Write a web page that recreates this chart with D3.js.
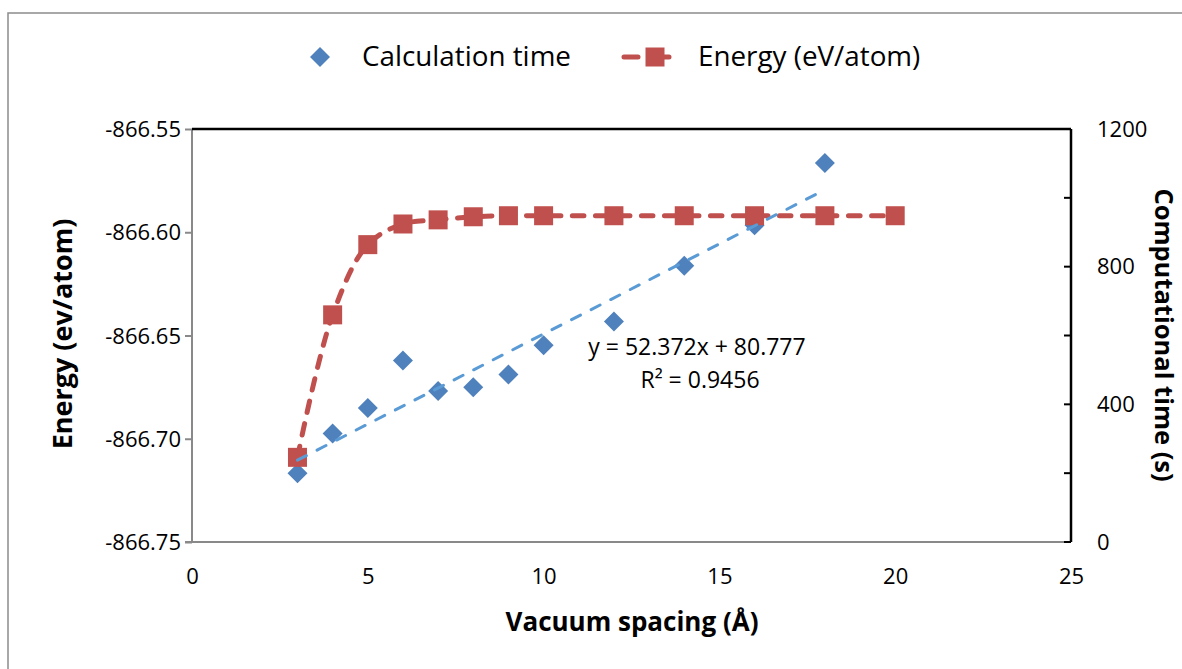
<!DOCTYPE html>
<html>
<head>
<meta charset="utf-8">
<script src="https://cdn.jsdelivr.net/npm/d3@7"></script>
<style>
  html, body { margin: 0; padding: 0; background: #fff; }
  svg { display: block; font-family: "Open Sans", "Liberation Sans", sans-serif; }
</style>
</head>
<body>
<svg id="chart" width="1182" height="669"></svg>
<script>
// Vacuum spacing (Å) for each run
const spacingTime = [3, 4, 5, 6, 7, 8, 9, 10, 12, 14, 16, 18];
const calcTime = [200, 315, 389, 527, 439, 450, 487, 572, 641, 803, 920, 1101];

const spacingEnergy = [3, 4, 5, 6, 7, 8, 9, 10, 12, 14, 16, 18, 20];
const energy = [-866.709, -866.640, -866.606, -866.596, -866.594, -866.5925, -866.592, -866.592,
                -866.592, -866.592, -866.592, -866.592, -866.592];

// Linear fit of calculation time vs spacing
const fitSlope = 52.372;
const fitIntercept = 80.777;
const fitR2 = 0.9456;

const xTicks = [0, 5, 10, 15, 20, 25];
const energyTicks = [-866.55, -866.60, -866.65, -866.70, -866.75];
const timeTicks = [0, 400, 800, 1200];
const timeMinorTicks = [0, 200, 400, 600, 800, 1000, 1200];

const blue = "#4F81BD";
const red = "#C0504D";
const trendBlue = "#5B9BD5";
const axisGray = "#898989";

const svg = d3.select("#chart");
const plot = { left: 192, right: 1071, top: 129, bottom: 542 };

const x = d3.scaleLinear().domain([0, 25]).range([plot.left, plot.right]);
const yE = d3.scaleLinear().domain([-866.75, -866.55]).range([plot.bottom, plot.top]);
const yT = d3.scaleLinear().domain([0, 1200]).range([plot.bottom, plot.top]);

// plain hyphen-minus for negative labels
const fmtEnergy = d => d3.format(".2f")(d).replace("\u2212", "-");

// outer chart frame
svg.append("rect")
  .attr("x", 8).attr("y", 13).attr("width", 1250).attr("height", 720)
  .attr("fill", "none").attr("stroke", "#8c8c8c").attr("stroke-width", 1.5);

// left axis (energy)
const leftAxis = svg.append("g").attr("transform", `translate(${plot.left},0)`)
  .call(d3.axisLeft(yE).tickValues(energyTicks).tickSize(7).tickPadding(4)
        .tickFormat(fmtEnergy));
leftAxis.select(".domain").attr("stroke", axisGray).attr("stroke-width", 2)
  .attr("d", `M0,${plot.top}V${plot.bottom}`);
leftAxis.selectAll(".tick line").attr("stroke", axisGray).attr("stroke-width", 2);
leftAxis.selectAll(".tick text").attr("font-size", 22).attr("fill", "#000")
  .attr("font-family", "'Open Sans', sans-serif").attr("dy", "0.35em");

// bottom axis
const bottomAxis = svg.append("g").attr("transform", `translate(0,${plot.bottom})`)
  .call(d3.axisBottom(x).tickValues(xTicks).tickSize(0).tickPadding(26));
bottomAxis.select(".domain").attr("stroke", axisGray).attr("stroke-width", 2)
  .attr("d", `M${plot.left - 7},0H${plot.right}`);
bottomAxis.selectAll(".tick text").attr("font-size", 22).attr("fill", "#000")
  .attr("font-family", "'Open Sans', sans-serif");

// top frame line and right axis (time)
svg.append("line")
  .attr("x1", plot.left).attr("x2", plot.right)
  .attr("y1", plot.top).attr("y2", plot.top)
  .attr("stroke", "#000").attr("stroke-width", 2.5);

const rightAxis = svg.append("g").attr("transform", `translate(${plot.right},0)`);
rightAxis.append("line")
  .attr("x1", 0).attr("x2", 0).attr("y1", plot.top).attr("y2", plot.bottom)
  .attr("stroke", "#000").attr("stroke-width", 2.5);
rightAxis.selectAll("line.minor").data(timeMinorTicks).join("line")
  .attr("class", "minor")
  .attr("x1", -7).attr("x2", 0)
  .attr("y1", d => yT(d)).attr("y2", d => yT(d))
  .attr("stroke", "#000").attr("stroke-width", 2);
rightAxis.selectAll("text").data(timeTicks).join("text")
  .attr("x", 26).attr("y", d => yT(d)).attr("dy", "0.35em")
  .attr("font-size", 22).attr("fill", "#000")
  .text(d => d);

// axis titles
svg.append("text")
  .attr("transform", `translate(72,334) rotate(-90)`)
  .attr("text-anchor", "middle").attr("font-weight", "bold").attr("font-size", 27)
  .text("Energy (ev/atom)");
svg.append("text")
  .attr("transform", `translate(1155,335) rotate(90)`)
  .attr("text-anchor", "middle").attr("font-weight", "bold").attr("font-size", 25.5)
  .text("Computational time (s)");
svg.append("text")
  .attr("x", 632).attr("y", 631)
  .attr("text-anchor", "middle").attr("font-weight", "bold").attr("font-size", 26)
  .text("Vacuum spacing (Å)");

const diamond = "M0,-10L10,0L0,10L-10,0Z";
const sq = 19;

// calculation time markers
svg.append("g").selectAll("path").data(spacingTime).join("path")
  .attr("d", diamond)
  .attr("transform", (d, i) => `translate(${x(d)},${yT(calcTime[i])})`)
  .attr("fill", blue);

// energy series: smoothed dashed line with square markers
const eLine = d3.line()
  .x((d, i) => x(spacingEnergy[i]))
  .y(d => yE(d))
  .curve(d3.curveCatmullRom);
svg.append("path")
  .attr("d", eLine(energy))
  .attr("fill", "none").attr("stroke", red).attr("stroke-width", 5)
  .attr("stroke-dasharray", "11.5 11.5").attr("stroke-linecap", "round");
svg.append("g").selectAll("rect").data(energy).join("rect")
  .attr("x", (d, i) => x(spacingEnergy[i]) - sq / 2)
  .attr("y", d => yE(d) - sq / 2)
  .attr("width", sq).attr("height", sq)
  .attr("fill", red);

// linear trendline over the time data range
const xMin = d3.min(spacingTime), xMax = d3.max(spacingTime);
svg.append("line")
  .attr("x1", x(xMin)).attr("y1", yT(fitSlope * xMin + fitIntercept))
  .attr("x2", x(xMax)).attr("y2", yT(fitSlope * xMax + fitIntercept))
  .attr("stroke", trendBlue).attr("stroke-width", 3)
  .attr("stroke-dasharray", "10 12").attr("stroke-linecap", "round");

// fit equation
svg.append("text")
  .attr("x", 697).attr("y", 355).attr("text-anchor", "middle").attr("font-size", 23)
  .text(`y = ${fitSlope}x + ${fitIntercept}`);
svg.append("text")
  .attr("x", 700).attr("y", 388).attr("text-anchor", "middle").attr("font-size", 23)
  .text(`R² = ${fitR2}`);

// legend
const legend = svg.append("g");
legend.append("path").attr("d", diamond)
  .attr("transform", "translate(320,57)").attr("fill", blue);
legend.append("text").attr("x", 362).attr("y", 66).attr("font-size", 27.8)
  .text("Calculation time");
legend.append("line")
  .attr("x1", 624).attr("x2", 686).attr("y1", 57).attr("y2", 57)
  .attr("stroke", red).attr("stroke-width", 5)
  .attr("stroke-dasharray", "14 17").attr("stroke-linecap", "round");
legend.append("rect")
  .attr("x", 655 - sq / 2).attr("y", 57 - sq / 2).attr("width", sq).attr("height", sq)
  .attr("fill", red);
legend.append("text").attr("x", 698).attr("y", 66).attr("font-size", 27.8)
  .text("Energy (eV/atom)");
</script>
</body>
</html>
